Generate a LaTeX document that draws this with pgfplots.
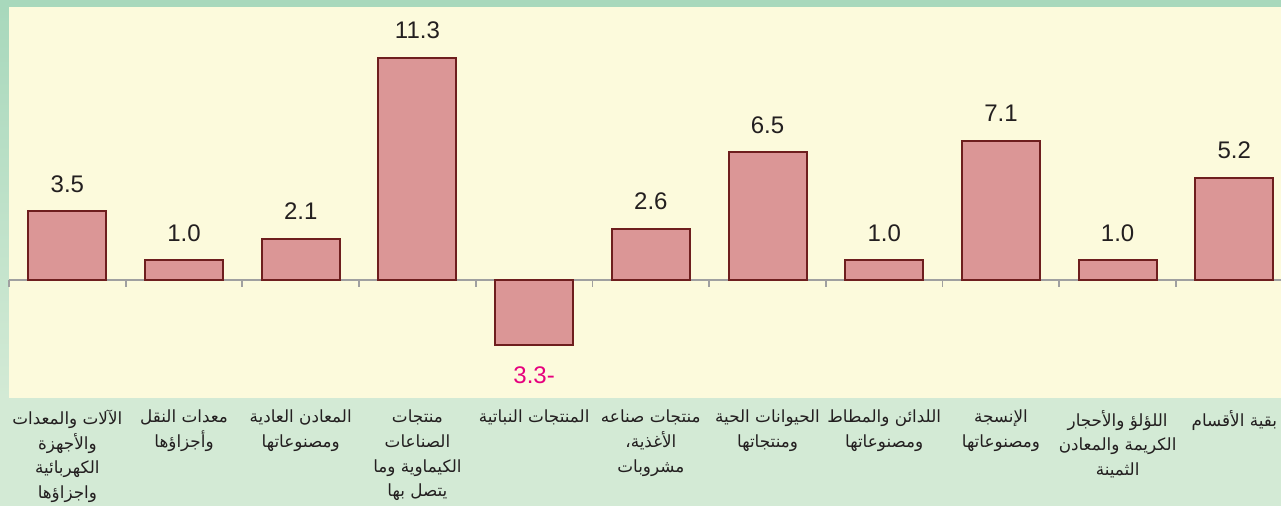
\documentclass[border=0pt]{standalone}
\usepackage{pgfplots}
\pgfplotsset{compat=1.18}
\usepackage{fontspec}
\setmainfont{Liberation Sans}
\newfontfamily\arabicfont[Script=Arabic]{DejaVu Sans}
\TeXXeTstate=1
\definecolor{bgyellow}{RGB}{252,250,220}
\definecolor{bggreen}{RGB}{211,234,213}
\definecolor{topgreen}{RGB}{168,216,188}
\definecolor{barfill}{RGB}{219,150,150}
\definecolor{baredge}{RGB}{110,30,30}
\definecolor{neglabel}{RGB}{230,0,126}
\definecolor{axisgray}{RGB}{160,160,160}
\definecolor{labeltext}{RGB}{35,31,32}
\begin{document}
\begin{tikzpicture}
\path[use as bounding box] (0,0) rectangle (640.5pt,253pt);
\fill[bggreen] (0,0) rectangle (640.5pt,253pt);
\fill[topgreen] (0,249.5pt) rectangle (640.5pt,253pt);
\shade[top color=topgreen, bottom color=bggreen] (0,54pt) rectangle (4.5pt,249.5pt);
\begin{axis}[
  at={(4.5pt,54pt)}, anchor=south west,
  scale only axis, width=636pt, height=195.5pt,
  xmin=-0.5, xmax=10.4, ymin=-6, ymax=13.9,
  axis background/.style={fill=bgyellow},
  axis line style={draw=none},
  ytick=\empty,
  xtick={0,1,2,3,4,5,6,7,8,9,10},
  xticklabels={
    {\beginR الآلات والمعدات\endR\\\beginR والأجهزة\endR\\\beginR الكهربائية\endR\\\beginR واجزاؤها\endR},
    {\beginR معدات النقل\endR\\\beginR وأجزاؤها\endR},
    {\beginR المعادن العادية\endR\\\beginR ومصنوعاتها\endR},
    {\beginR منتجات\endR\\\beginR الصناعات\endR\\\beginR الكيماوية وما\endR\\\beginR يتصل بها\endR},
    {\beginR المنتجات النباتية\endR},
    {\beginR منتجات صناعه\endR\\\beginR الأغذية،\endR\\\beginR مشروبات\endR},
    {\beginR الحيوانات الحية\endR\\\beginR ومنتجاتها\endR},
    {\beginR اللدائن والمطاط\endR\\\beginR ومصنوعاتها\endR},
    {\beginR الإنسجة\endR\\\beginR ومصنوعاتها\endR},
    {\beginR اللؤلؤ والأحجار\endR\\\beginR الكريمة والمعادن\endR\\\beginR الثمينة\endR},
    {\beginR بقية الأقسام\endR}
  },
  major tick length=0pt,
  xticklabel style={font=\arabicfont\fontsize{8.4}{12.3}\selectfont, align=center, anchor=north, yshift=-2.5pt, text=labeltext},
  ybar, bar width=39pt, bar shift=0pt,
  /pgf/number format/assume math mode=true,
  clip=false,
]
\draw[axisgray, line width=1pt] (axis cs:-0.5,0) -- (axis cs:10.4,0);
\pgfplotsinvokeforeach{-0.5,0.5,1.5,2.5,3.5,4.5,5.5,6.5,7.5,8.5,9.5}{
  \draw[axisgray, line width=0.9pt] (axis cs:#1,0) -- ++(0pt,-3.5pt);
}
\addplot[fill=barfill, draw=baredge, line width=1pt,
  nodes near coords,
  every node near coord/.append style={font=\fontsize{12}{14}\selectfont, text=labeltext, anchor=south, inner sep=0pt, yshift=9pt, /pgf/number format/fixed, /pgf/number format/fixed zerofill, /pgf/number format/precision=1}]
  coordinates {(0,3.5) (1,1.0) (2,2.1) (3,11.3) (5,2.6) (6,6.5) (7,1.0) (8,7.1) (9,1.0) (10,5.2)};
\addplot[fill=barfill, draw=baredge, line width=1pt,
  nodes near coords={3.3-},
  every node near coord/.append style={font=\fontsize{12}{14}\selectfont, text=neglabel, anchor=north, inner sep=0pt, yshift=-10.5pt}]
  coordinates {(4,-3.3)};
\end{axis}
\end{tikzpicture}
\end{document}
